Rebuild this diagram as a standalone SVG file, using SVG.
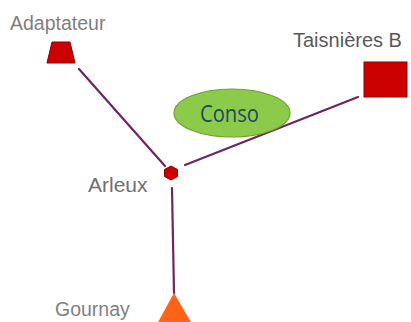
<svg xmlns="http://www.w3.org/2000/svg" width="411" height="322" viewBox="0 0 411 322">
  <style>
    .lbl { font-family: "Liberation Sans", Arial, sans-serif; }
    .link { stroke: #6E2560; stroke-width: 2.2; fill: none; stroke-linecap: round; }
    .red { fill: #CC0000; stroke: #8E0000; stroke-width: 1; }
  </style>
  <rect width="411" height="322" fill="#FFFFFF"/>

  <!-- connectors between the sites -->
  <g id="connectors">
    <line class="link" x1="79" y1="69" x2="165" y2="166"/>
    <line class="link" x1="358" y1="97" x2="185" y2="165"/>
    <line class="link" x1="172" y1="188" x2="174" y2="293"/>
  </g>

  <g id="adaptateur">
    <polygon class="red" points="52,42 70,42 75,63 47,63"/>
    <text class="lbl" x="10" y="30" font-size="19.5" fill="#808080">Adaptateur</text>
  </g>

  <g id="taisnieres-b">
    <rect class="red" x="364" y="62" width="43" height="35"/>
    <text class="lbl" x="293" y="47" font-size="20" fill="#595959">Taisnières B</text>
  </g>

  <g id="conso">
    <ellipse cx="232" cy="113" rx="58" ry="24" fill="#8CCB4A" stroke="#6FA033" stroke-width="1.2"/>
    <text x="200" y="122" font-family="Open Sans, sans-serif" font-size="23" fill="#1F4A5A" textLength="59" lengthAdjust="spacingAndGlyphs">Conso</text>
  </g>

  <g id="arleux">
    <polygon class="red" points="171,166 177.5,169.5 177.5,176.5 171,180 164.5,176.5 164.5,169.5"/>
    <text class="lbl" x="88" y="192" font-size="21" fill="#707070">Arleux</text>
  </g>

  <g id="gournay">
    <polygon points="174,293 157,324 192,324" fill="#FF6318"/>
    <text class="lbl" x="55" y="316" font-size="19.5" fill="#808080">Gournay</text>
  </g>
</svg>
